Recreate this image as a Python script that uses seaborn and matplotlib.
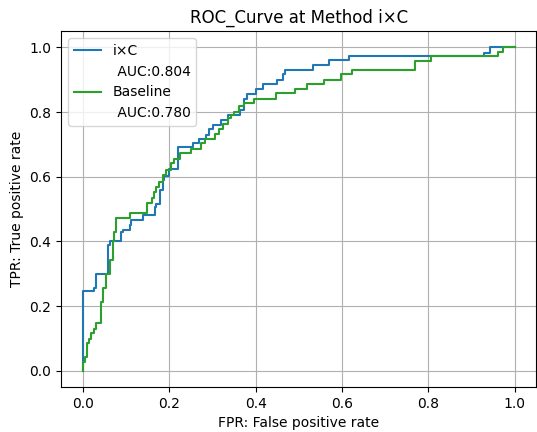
import matplotlib
matplotlib.use("Agg")
import matplotlib.pyplot as plt
import seaborn as sns
from matplotlib.lines import Line2D

# i×C ROC curve (fpr, tpr) corner points
ixc_fpr = [0, 0, 0.025, 0.025, 0.030, 0.030, 0.058, 0.058, 0.064, 0.064, 0.089, 0.089,
           0.093, 0.093, 0.109, 0.109, 0.112, 0.112, 0.139, 0.139, 0.166, 0.166, 0.170, 0.170,
           0.178, 0.178, 0.186, 0.186, 0.189, 0.189, 0.200, 0.200, 0.220, 0.220, 0.255, 0.255,
           0.270, 0.270, 0.286, 0.286, 0.292, 0.292, 0.301, 0.301, 0.320, 0.320, 0.336, 0.336,
           0.363, 0.363, 0.372, 0.372, 0.380, 0.380, 0.400, 0.400, 0.416, 0.416, 0.449, 0.449,
           0.464, 0.464, 0.469, 0.469, 0.532, 0.532, 0.569, 0.569, 0.617, 0.617, 0.928, 0.928,
           0.942, 0.942, 1.0]
ixc_tpr = [0, 0.247, 0.247, 0.256, 0.256, 0.300, 0.300, 0.389, 0.389, 0.402, 0.402, 0.430,
           0.430, 0.435, 0.435, 0.450, 0.450, 0.466, 0.466, 0.481, 0.481, 0.507, 0.507, 0.517,
           0.517, 0.559, 0.559, 0.590, 0.590, 0.602, 0.602, 0.625, 0.625, 0.692, 0.692, 0.703,
           0.703, 0.718, 0.718, 0.728, 0.728, 0.749, 0.749, 0.759, 0.759, 0.775, 0.775, 0.790,
           0.790, 0.805, 0.805, 0.841, 0.841, 0.857, 0.857, 0.872, 0.872, 0.888, 0.888, 0.898,
           0.898, 0.916, 0.916, 0.929, 0.929, 0.944, 0.944, 0.960, 0.960, 0.972, 0.972, 0.983,
           0.983, 1.0, 1.0]

# Baseline ROC curve
base_fpr = [0, 0, 0.005, 0.005, 0.009, 0.009, 0.015, 0.015, 0.020, 0.020, 0.025, 0.025,
            0.030, 0.030, 0.041, 0.041, 0.047, 0.047, 0.053, 0.053, 0.064, 0.064, 0.069, 0.069,
            0.073, 0.073, 0.077, 0.077, 0.110, 0.110, 0.149, 0.149, 0.159, 0.159, 0.164, 0.164,
            0.170, 0.170, 0.176, 0.176, 0.186, 0.186, 0.193, 0.193, 0.205, 0.205, 0.212, 0.212,
            0.224, 0.224, 0.251, 0.251, 0.274, 0.274, 0.282, 0.282, 0.305, 0.305, 0.316, 0.316,
            0.324, 0.324, 0.336, 0.336, 0.343, 0.343, 0.351, 0.351, 0.361, 0.361, 0.372, 0.372,
            0.396, 0.396, 0.446, 0.446, 0.490, 0.490, 0.519, 0.519, 0.559, 0.559, 0.597, 0.597,
            0.624, 0.624, 0.769, 0.769, 0.805, 0.805, 0.961, 0.961, 0.972, 0.972, 1.0]
base_tpr = [0, 0.029, 0.029, 0.044, 0.044, 0.085, 0.085, 0.100, 0.100, 0.116, 0.116, 0.130,
            0.130, 0.147, 0.147, 0.214, 0.214, 0.255, 0.255, 0.300, 0.300, 0.343, 0.343, 0.400,
            0.400, 0.430, 0.430, 0.471, 0.471, 0.487, 0.487, 0.518, 0.518, 0.534, 0.534, 0.553,
            0.553, 0.569, 0.569, 0.584, 0.584, 0.605, 0.605, 0.620, 0.620, 0.643, 0.643, 0.655,
            0.655, 0.672, 0.672, 0.687, 0.687, 0.703, 0.703, 0.718, 0.718, 0.733, 0.733, 0.749,
            0.749, 0.764, 0.764, 0.780, 0.780, 0.790, 0.790, 0.800, 0.800, 0.820, 0.820, 0.828,
            0.828, 0.841, 0.841, 0.859, 0.859, 0.872, 0.872, 0.888, 0.888, 0.900, 0.900, 0.917,
            0.917, 0.929, 0.929, 0.958, 0.958, 0.972, 0.972, 0.986, 0.986, 1.0, 1.0]

series_names = ["i×C", "Baseline"]
auc_values = [0.804, 0.780]
x_ticks = [0.0, 0.2, 0.4, 0.6, 0.8, 1.0]
y_ticks = [0.0, 0.2, 0.4, 0.6, 0.8, 1.0]

fig = plt.figure(figsize=(5.37, 4.32), dpi=100)
ax = fig.add_axes([0.114, 0.104, 0.885, 0.824])

sns.lineplot(x=ixc_fpr, y=ixc_tpr, sort=False, estimator=None, color="tab:blue", ax=ax)
sns.lineplot(x=base_fpr, y=base_tpr, sort=False, estimator=None, color="tab:green", ax=ax)

ax.set_xticks(x_ticks)
ax.set_yticks(y_ticks)
ax.grid(True)
ax.set_title("ROC_Curve at Method i×C")
ax.set_xlabel("FPR: False positive rate")
ax.set_ylabel("TPR: True positive rate")

handles = [
    Line2D([], [], color="tab:blue"),
    Line2D([], [], linestyle="none"),
    Line2D([], [], color="tab:green"),
    Line2D([], [], linestyle="none"),
]
labels = [series_names[0], f" AUC:{auc_values[0]:.3f}",
          series_names[1], f" AUC:{auc_values[1]:.3f}"]
ax.legend(handles, labels, loc="upper left")

fig.savefig("out.png", dpi=100)
